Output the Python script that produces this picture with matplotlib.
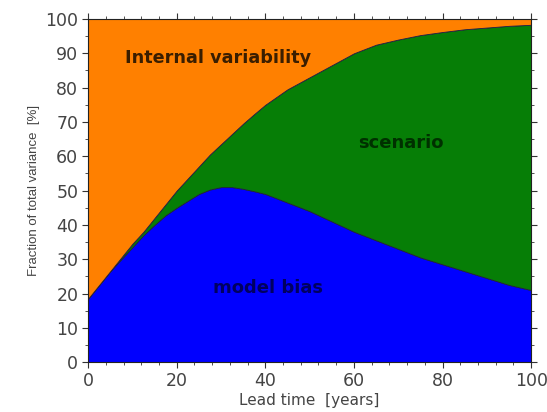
import numpy as np
import matplotlib
matplotlib.use("Agg")
import matplotlib.pyplot as plt
from matplotlib.ticker import MultipleLocator

# lead time [years] and share of total variance [%]
lead_time = [0, 2.5, 5, 7.5, 10, 12.5, 15, 17.5, 20, 22.5, 25, 27.5, 30,
             32.5, 35, 37.5, 40, 45, 50, 55, 60, 65, 70, 75, 80, 85, 90,
             95, 100]
model_bias = [18.5, 22.5, 26.5, 30, 33.5, 37, 40, 42.8, 45, 47, 49, 50.3, 51,
              51, 50.5, 49.8, 49, 46.5, 44, 41, 38, 35.5, 33, 30.5, 28.5,
              26.5, 24.5, 22.5, 21]
scenario = [0, 0, 0, 0.5, 1, 1, 2, 3.2, 5, 6.5, 8, 10.2, 12.5,
            15.5, 19, 22.5, 26, 33, 39, 45.5, 52, 57, 61, 64.8, 67.7,
            70.5, 73, 75.5, 77.3]
internal = [100 - b - s for b, s in zip(model_bias, scenario)]

plt.rcParams['font.family'] = ['DejaVu Sans']

fig = plt.figure(figsize=(5.47, 4.12), dpi=100)
ax = fig.add_axes([0.161, 0.121, 0.810, 0.833])

ax.stackplot(lead_time, model_bias, scenario, internal,
             colors=['#0000ff', '#067e06', '#ff8000'],
             edgecolor='#202040', linewidth=0.6)

ax.text(8.4, 88.7, 'Internal variability', fontsize=12.7, fontweight='bold',
        color='#3a1e00', va='center', ha='left')
ax.text(70.6, 64, 'scenario', fontsize=13, fontweight='bold',
        color='#003000', va='center', ha='center')
ax.text(40.5, 21.5, 'model bias', fontsize=13, fontweight='bold',
        color='#000060', va='center', ha='center')

ax.set_xlim(0, 100)
ax.set_ylim(0, 100)
ax.xaxis.set_major_locator(MultipleLocator(20))
ax.xaxis.set_minor_locator(MultipleLocator(4))
ax.yaxis.set_major_locator(MultipleLocator(10))
ax.yaxis.set_minor_locator(MultipleLocator(5))
ax.tick_params(which='both', direction='out', top=True, right=True,
               labelsize=12.5, labelcolor='#444444', color='#333333')
ax.tick_params(which='major', length=4, pad=3)
ax.tick_params(which='minor', length=2.5)
for s in ax.spines.values():
    s.set_color('#222222')

ax.set_xlabel('Lead time  [years]', fontsize=11, color='#444444', labelpad=2)
ax.set_ylabel('Fraction of total variance  [%]', fontsize=9.5,
              color='#444444', labelpad=4, family='Liberation Sans')

fig.savefig('out.png', dpi=100)
